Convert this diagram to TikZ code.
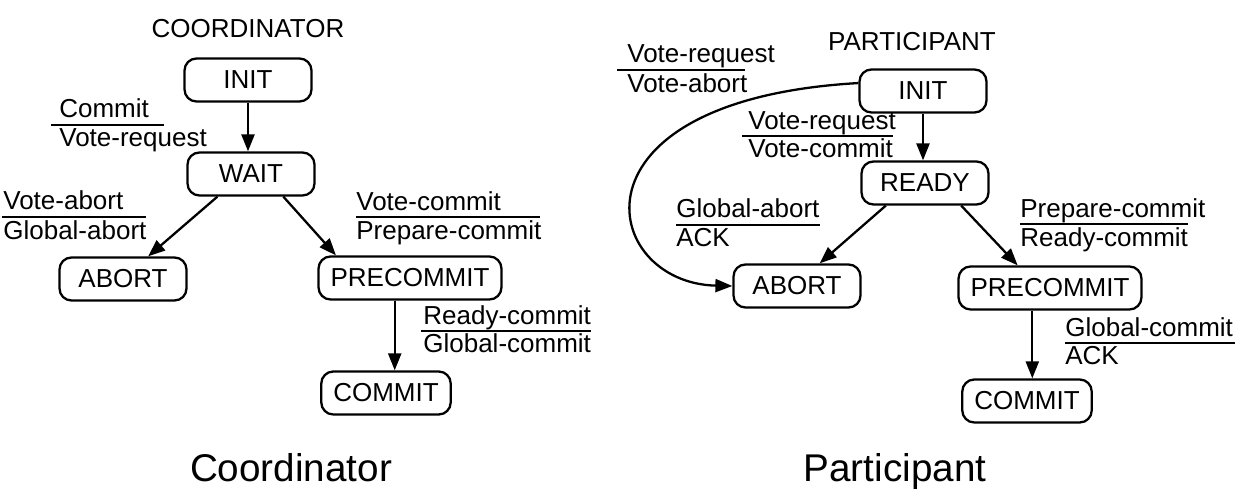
\documentclass[tikz,border=0pt]{standalone}
\usepackage{fontspec}
\setmainfont{Liberation Sans}
\usetikzlibrary{arrows.meta}

\begin{document}
\begin{tikzpicture}[x=0.02cm,y=-0.02cm,
	statebox/.style={draw,line width=1.3pt,rounded corners=0.24cm,minimum width=2.54cm,minimum height=0.86cm,inner xsep=0.24cm,font=\fontsize{14.8}{18}\selectfont},
	msg/.style={anchor=base west,inner sep=0pt,font=\fontsize{14.8}{18}\selectfont},
	rulebar/.style={line width=1.3pt},
	move/.style={line width=1.3pt,-{Triangle[length=0.34cm,width=0.26cm]}},
	heading/.style={anchor=base,inner sep=0pt,font=\fontsize{14.8}{18}\selectfont},
	sidename/.style={anchor=base,inner sep=0pt,font=\fontsize{22}{26}\selectfont}]
	\useasboundingbox (0,0) rectangle (1252,496);

	% coordinator
	\node[heading] (c-head) at (248,38) {COORDINATOR};
	\node[statebox] (c-init) at (248,80) {INIT};
	\node[statebox] (c-wait) at (251,174) {WAIT};
	\node[statebox] (c-abort) at (123,279) {ABORT};
	\node[statebox] (c-pre) at (410,278) {PRECOMMIT};
	\node[statebox] (c-commit) at (386,393) {COMMIT};
	\draw[move] (c-init) -- (c-init |- c-wait.north);
	\draw[move] (c-wait.214) -- (c-abort.42);
	\draw[move] (c-wait.325) -- (c-pre.163);
	\draw[move] (c-pre.236) -- (c-pre.236 |- c-commit.north);

	\node[msg] (c-m1a) at (59,118) {Commit};
	\node[msg] (c-m1b) at (59,147) {Vote-request};
	\draw[rulebar] (51,125) -- (164,125);
	\node[msg] (c-m2a) at (3,210) {Vote-abort};
	\node[msg] (c-m2b) at (3,240) {Global-abort};
	\draw[rulebar] (2,217) -- (146,217);
	\node[msg] (c-m3a) at (356,211) {Vote-commit};
	\node[msg] (c-m3b) at (356,240) {Prepare-commit};
	\draw[rulebar] (356,217) -- (540,217);
	\node[msg] (c-m4a) at (423,325) {Ready-commit};
	\node[msg] (c-m4b) at (423,353) {Global-commit};
	\draw[rulebar] (421,331) -- (591,331);
	\node[sidename] (c-name) at (291,482) {Coordinator};

	% participant
	\node[heading] (p-head) at (912,51) {PARTICIPANT};
	\node[statebox] (p-init) at (923,91) {INIT};
	\node[statebox] (p-ready) at (925,183) {READY};
	\node[statebox] (p-abort) at (797,286) {ABORT};
	\node[statebox] (p-pre) at (1050,288) {PRECOMMIT};
	\node[statebox] (p-commit) at (1027,401) {COMMIT};
	\draw[move] (p-init) -- (p-init |- p-ready.north);
	\draw[move] (p-init.173) .. controls (560,100) and (600,283) .. (p-abort.west);
	\draw[move] (p-ready.210) -- (p-abort.45);
	\draw[move] (p-ready.328) -- (p-pre.145);
	\draw[move] (p-pre.232) -- (p-pre.232 |- p-commit.north);

	\node[msg] (p-m1a) at (627,63) {Vote-request};
	\node[msg] (p-m1b) at (627,93) {Vote-abort};
	\draw[rulebar] (617,70) -- (745,70);
	\node[msg] (p-m2a) at (748,130) {Vote-request};
	\node[msg] (p-m2b) at (748,158) {Vote-commit};
	\draw[rulebar] (742,136) -- (893,136);
	\node[msg] (p-m3a) at (676,218) {Global-abort};
	\node[msg] (p-m3b) at (676,247) {ACK};
	\draw[rulebar] (676,225) -- (820,225);
	\node[msg] (p-m4a) at (1020,218) {Prepare-commit};
	\node[msg] (p-m4b) at (1020,247) {Ready-commit};
	\draw[rulebar] (1020,224) -- (1188,224);
	\node[msg] (p-m5a) at (1065,337) {Global-commit};
	\node[msg] (p-m5b) at (1065,365) {ACK};
	\draw[rulebar] (1065,343) -- (1235,343);
	\node[sidename] (p-name) at (895,482) {Participant};
\end{tikzpicture}
\end{document}
